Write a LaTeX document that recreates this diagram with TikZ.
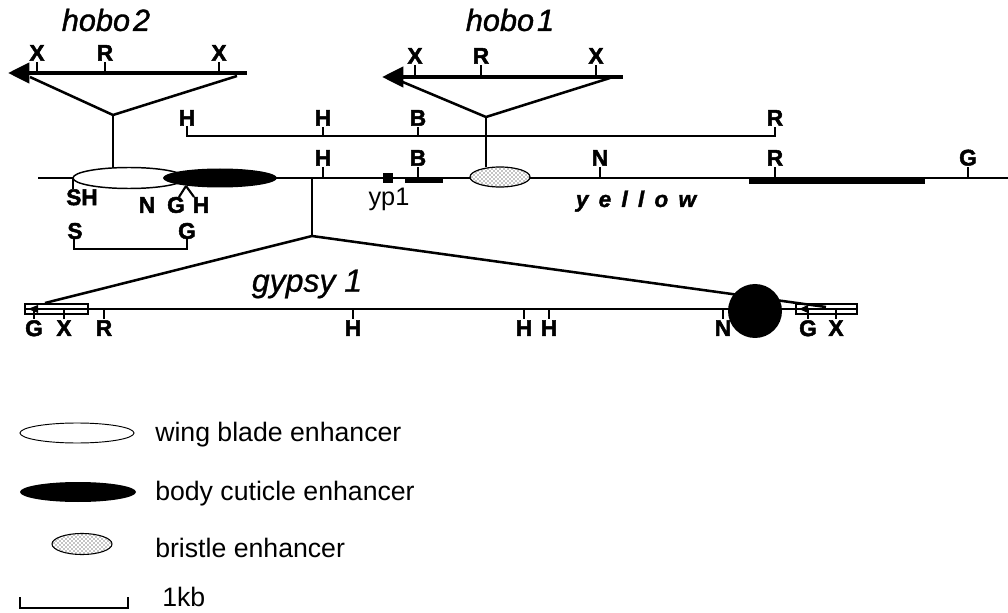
\documentclass[tikz,border=0pt]{standalone}
\usepackage{fontspec}
\setmainfont{Liberation Sans}
\newfontfamily\hobofont{Liberation Sans}[WordSpace=0.35, FakeBold=1.2]
\newfontfamily\gypfont{Liberation Sans}[FakeBold=0.8]
\newfontfamily\rsfont{Liberation Sans}[FakeBold=2.2]
\newfontfamily\yelfont{Liberation Sans}[LetterSpace=45, FakeBold=1.5]
\usetikzlibrary{arrows.meta,patterns}
\begin{document}
\begin{tikzpicture}[x=0.75pt,y=-0.75pt,
  rs/.style={font=\rsfont\fontsize{17}{17}\selectfont\bfseries, inner sep=0pt},
  ttl/.style={font=\hobofont\fontsize{23}{23}\selectfont\itshape, inner sep=0pt},
  leg/.style={font=\fontsize{20}{20}\selectfont, inner sep=0pt, anchor=base west},
  ln/.style={line width=1.5pt},
  tk/.style={line width=1.6pt},
  tri/.style={line width=1.9pt, line join=miter},
  hobo/.style={line width=3.2pt, {Triangle[length=16pt,width=15pt]}-},
  bar/.style={line width=3.8pt},
  dots/.style={fill=white, postaction={pattern=crosshatch dots, pattern color=black}},
]
\useasboundingbox (0,0) rectangle (1008,613);

% ---------------- main yellow line
\coordinate (mL) at (38,178);
\coordinate (mR) at (1008,178);
\draw[ln] (mL) -- (mR);

% ticks above main line
\foreach \x/\l/\n in {323/H/a, 418/B/b, 600/N/c, 775/R/d, 968/G/e}{
  \draw[tk] (\x,178) -- (\x,167);
  \node[rs, anchor=south] (m\n) at (\x,166) {\l};
}

% yp1 box and thick bars
\fill (383,173) rectangle (393,183);
\draw[bar] (405,180) -- (443,180);
\draw[bar] (749,181) -- (925,181);
\node[font=\fontsize{19}{19}\selectfont, inner sep=0pt] (yp) at (389,199) {yp1};

% enhancers on main line
\coordinate (wingc) at (129,178);
\coordinate (bodyc) at (220,178);
\coordinate (brisc) at (500,177);
\draw[line width=1.1pt, fill=white] (wingc) ellipse [x radius=56, y radius=10.5];
\fill (bodyc) ellipse [x radius=57, y radius=9.5];
\draw[line width=0.9pt, dots] (brisc) ellipse [x radius=30, y radius=10];

% labels below main line (left)
\draw[tk] (73,178) -- (73,189);
\node[rs, anchor=north west] (sh) at (66,189) {SH};
\node[rs] (nl) at (147,205) {N};
\node[rs] (gl) at (176,205) {G};
\node[rs] (hl) at (201,205) {H};
\coordinate (vtop) at (186,186);
\draw[tk] (vtop) -- (179,197);
\draw[tk] (vtop) -- (194,197);

% lower bracket S--G
\node[rs] (sb) at (75,231) {S};
\node[rs] (gb) at (187,231) {G};
\draw[tk] (74,238) -- (74,249) -- (187,249) -- (187,238);

% upper restriction line
\draw[tk] (187,126) -- (187,136) -- (775,136) -- (775,127);
\node[rs, anchor=south] (uh1) at (187,126) {H};
\draw[tk] (323,136) -- (323,127);
\node[rs, anchor=south] (uh2) at (323,126) {H};
\draw[tk] (418,136) -- (418,127);
\node[rs, anchor=south] (ub) at (418,126) {B};
\node[rs, anchor=south] (ur) at (775,126) {R};

% ---------------- hobo 2
\node[ttl] (t2) at (106,20) {hobo 2};
\coordinate (h2tip) at (8,73);
\coordinate (h2end) at (247,73);
\draw[hobo] (h2tip) -- (h2end);
\coordinate (h2apex) at (113,115);
\draw[tri] (30,77) -- (h2apex) -- (237,76);
\draw[ln] (h2apex) -- (113,167.5);
\foreach \x/\l/\n in {37/X/a, 105/R/b, 219/X/c}{
  \draw[tk] (\x,73) -- (\x,62);
  \node[rs, anchor=south] (h2\n) at (\x,61) {\l};
}

% ---------------- hobo 1
\node[ttl] (t1) at (510,20) {hobo 1};
\coordinate (h1tip) at (382,77);
\coordinate (h1end) at (623,77);
\draw[hobo] (h1tip) -- (h1end);
\coordinate (h1apex) at (486,117);
\draw[tri] (398,80) -- (h1apex) -- (610,78);
\draw[ln] (h1apex) -- (486,167);
\foreach \x/\l/\n in {415/X/a, 481/R/b, 596/X/c}{
  \draw[tk] (\x,77) -- (\x,65);
  \node[rs, anchor=south] (h1\n) at (\x,64) {\l};
}

% ---------------- yellow label
\node[font=\yelfont\fontsize{17}{17}\selectfont\bfseries\itshape, inner sep=0pt, anchor=base] (yel) at (636,207) {yellow};

% ---------------- gypsy 1
\coordinate (gapex) at (312,236);
\draw[ln] (312,178) -- (gapex);
\draw[tri] (45,303) -- (gapex) -- (826,307);
\node[font=\gypfont\fontsize{24}{24}\selectfont\itshape, inner sep=0pt] (gt) at (307,284) {gypsy 1};

\draw[ln] (25,309) -- (857,309);
\draw[line width=1pt] (25,304) rectangle (88,314);
\draw[line width=1pt] (796,304) rectangle (857,314);
\fill (28,309) -- (38,305) -- (38,313) -- cycle;
\fill (799,309) -- (808,305) -- (808,313) -- cycle;
\fill (755,311) circle [radius=27];

\foreach \x/\l/\n in {34/G/a, 64/X/b, 104/R/c, 353/H/d, 524/H/e, 549/H/f, 723/N/g, 808/G/h, 836/X/i}{
  \draw[tk] (\x,309) -- (\x,319);
  \node[rs, anchor=north] (g\n) at (\x,320) {\l};
}

% ---------------- legend
\draw[line width=0.7pt, fill=white] (77,433) ellipse [x radius=57, y radius=10];
\node[leg] (l1) at (155,441) {wing blade enhancer};
\fill (78,492) ellipse [x radius=58, y radius=10];
\node[leg] (l2) at (155,500) {body cuticle enhancer};
\draw[line width=0.8pt, dots] (82,544) ellipse [x radius=30, y radius=10.5];
\node[leg] (l3) at (155,557) {bristle enhancer};
\draw[tk] (20,597) -- (20,608) -- (128,608) -- (128,597);
\node[leg] (l4) at (162,606) {1kb};
\end{tikzpicture}
\end{document}
